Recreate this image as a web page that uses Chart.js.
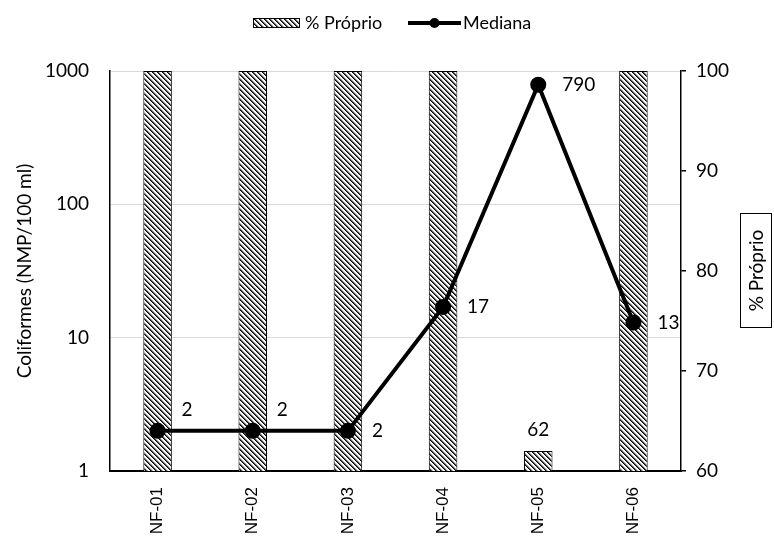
<!DOCTYPE html>
<html>
<head>
<meta charset="utf-8">
<script src="https://cdn.jsdelivr.net/npm/chart.js@4/dist/chart.umd.min.js"></script>
<style>
html,body{margin:0;padding:0;background:#fff;}
#wrap{width:774px;height:537px;}
</style>
</head>
<body>
<div id="wrap"><canvas id="c" width="774" height="537"></canvas></div>
<script>
const categories = ['NF-01','NF-02','NF-03','NF-04','NF-05','NF-06'];
const proprio = [100, 100, 100, 100, 62, 100];
const mediana = [2, 2, 2, 17, 790, 13];
const leftTicks = [1, 10, 100, 1000];
const rightTicks = [60, 70, 80, 90, 100];

const FONT = 'Lato, "Open Sans", sans-serif';

function makePattern(){
  const n = 5;
  const pc = document.createElement('canvas');
  pc.width = n; pc.height = n;
  const p = pc.getContext('2d');
  p.fillStyle = '#ffffff'; p.fillRect(0,0,n,n);
  for (let i=0;i<n;i++){
    p.fillStyle = '#000000'; p.fillRect(i, i, 1, 1);
    p.fillStyle = '#555555'; p.fillRect((i+1)%n, i, 1, 1);
    p.fillStyle = '#bbbbbb'; p.fillRect((i+2)%n, i, 1, 1);
  }
  return document.getElementById('c').getContext('2d').createPattern(pc, 'repeat');
}
const hatch = makePattern();

const labelPlugin = {
  id: 'labels',
  afterDatasetsDraw(chart){
    const ctx = chart.ctx;
    ctx.save();
    ctx.font = '19px ' + FONT;
    ctx.fillStyle = '#000';
    const lm = chart.getDatasetMeta(1);
    const dyLine = [-21, -21, 0, 0, 0, 0];
    lm.data.forEach((pt, i) => {
      ctx.textAlign = 'left';
      ctx.textBaseline = 'middle';
      ctx.fillText(String(mediana[i]), pt.x + 24, pt.y + dyLine[i]);
    });
    const bm = chart.getDatasetMeta(0);
    bm.data.forEach((b, i) => {
      if (proprio[i] < 100){
        ctx.textAlign = 'center';
        ctx.textBaseline = 'middle';
        ctx.fillText(String(proprio[i]), b.x, b.y - 21);
      }
    });
    ctx.restore();
  },
  afterDraw(chart){
    const ctx = chart.ctx;
    ctx.save();
    const cy = 23;
    ctx.fillStyle = hatch;
    ctx.fillRect(253, cy - 5, 47, 10);
    ctx.strokeStyle = '#000'; ctx.lineWidth = 1;
    ctx.strokeRect(253.5, cy - 4.5, 46, 9);
    ctx.fillStyle = '#000';
    ctx.font = '18px ' + FONT;
    ctx.textAlign = 'left'; ctx.textBaseline = 'middle';
    ctx.fillText(chart.data.datasets[0].label, 305, cy);
    ctx.beginPath(); ctx.moveTo(408, cy); ctx.lineTo(461, cy);
    ctx.lineWidth = 4; ctx.stroke();
    ctx.beginPath(); ctx.arc(434.5, cy, 5, 0, Math.PI*2); ctx.fill();
    ctx.fillText(chart.data.datasets[1].label, 463, cy);
    ctx.lineWidth = 1;
    ctx.strokeRect(740.5, 213.5, 31, 114);
    ctx.translate(757, 270.5);
    ctx.rotate(-Math.PI/2);
    ctx.font = '19px ' + FONT;
    ctx.textAlign = 'center'; ctx.textBaseline = 'middle';
    ctx.fillText('% Próprio', 0, 0);
    ctx.restore();
  }
};

new Chart(document.getElementById('c'), {
  data: {
    labels: categories,
    datasets: [
      {
        type: 'bar',
        label: '% Próprio',
        data: proprio,
        yAxisID: 'y1',
        backgroundColor: hatch,
        borderColor: '#000',
        borderWidth: 1,
        categoryPercentage: 1,
        barPercentage: 0.3,
        order: 2
      },
      {
        type: 'line',
        label: 'Mediana',
        data: mediana,
        yAxisID: 'y',
        borderColor: '#000',
        backgroundColor: '#000',
        borderWidth: 4,
        pointRadius: 8,
        pointBackgroundColor: '#000',
        pointBorderWidth: 0,
        tension: 0,
        order: 1
      }
    ]
  },
  options: {
    responsive: false,
    animation: false,
    layout: { padding: { top: 71, left: 0, right: 0, bottom: 0 } },
    plugins: { legend: { display: false }, tooltip: { enabled: false } },
    scales: {
      x: {
        offset: true,
        grid: { display: false, drawTicks: false },
        border: { color: '#000', width: 2 },
        ticks: {
          color: '#000',
          font: { family: '"Liberation Sans", Arial, sans-serif', size: 17 },
          minRotation: 90, maxRotation: 90,
          padding: 16,
          autoSkip: false
        },
        afterFit(s){ s.height = 66; }
      },
      y: {
        type: 'logarithmic',
        position: 'left',
        min: 1, max: 1000,
        afterBuildTicks(s){ s.ticks = leftTicks.map(v => ({ value: v, major: true })); },
        grid: { color: '#d9d9d9', lineWidth: 1, drawTicks: false },
        border: { color: '#000', width: 1.5 },
        ticks: {
          color: '#000',
          font: { family: FONT, size: 19 },
          padding: 21,
          callback: (v) => String(v)
        },
        title: {
          display: true,
          text: 'Coliformes (NMP/100 ml)',
          color: '#000',
          font: { family: FONT, size: 19 },
          padding: { top: 13, bottom: 0 }
        },
        afterFit(s){ s.width = 110; }
      },
      y1: {
        type: 'linear',
        position: 'right',
        min: 60, max: 100,
        afterBuildTicks(s){ s.ticks = rightTicks.map(v => ({ value: v })); },
        grid: { drawOnChartArea: false, color: '#000', tickLength: 5, lineWidth: 1.5 },
        border: { color: '#000', width: 1.5 },
        ticks: {
          color: '#000',
          font: { family: FONT, size: 19 },
          padding: 10,
          callback: (v) => String(v)
        },
        afterFit(s){ s.width = 93; }
      }
    }
  },
  plugins: [labelPlugin]
});
</script>
</body>
</html>
